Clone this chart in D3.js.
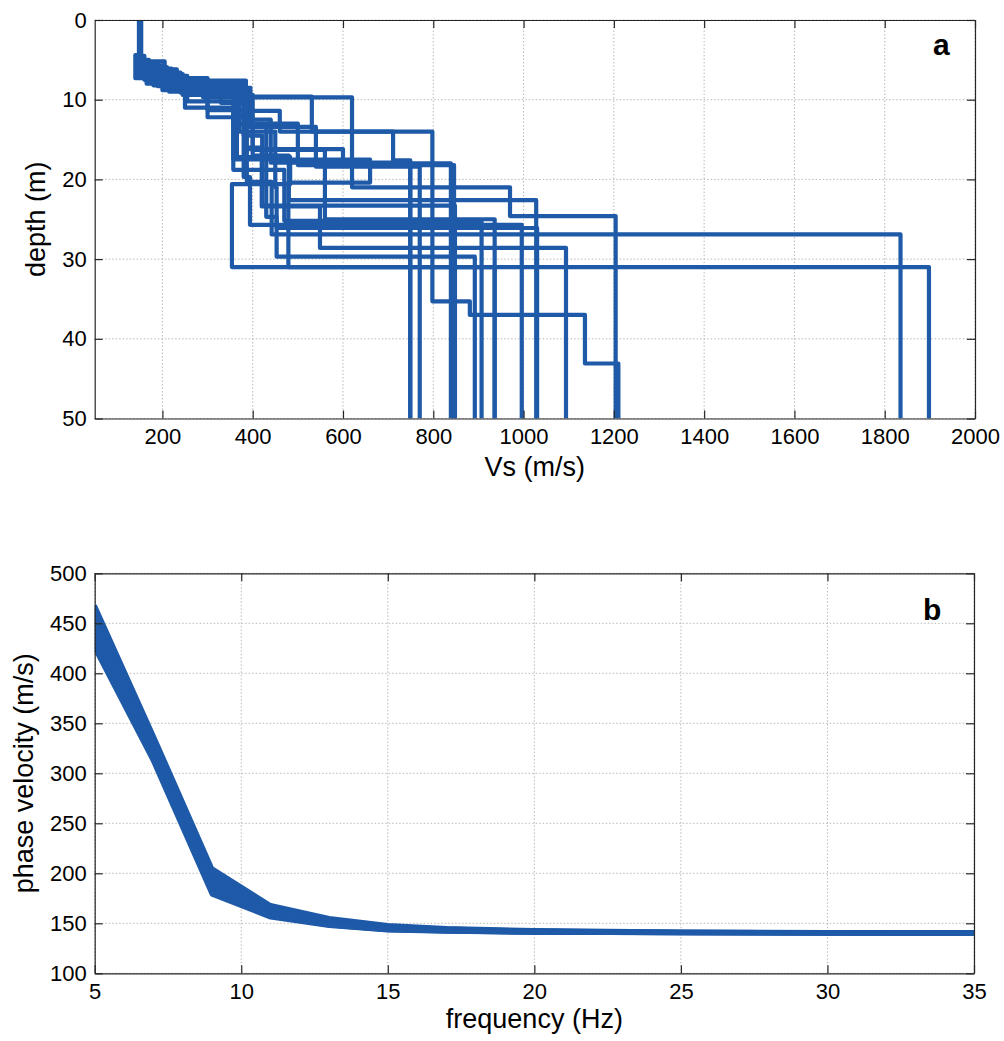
<!DOCTYPE html>
<html>
<head>
<meta charset="utf-8">
<script src="https://cdn.jsdelivr.net/npm/d3@7"></script>
<style>
  body { margin: 0; background: #fff; }
  svg { display: block; }
  text { font-family: "Liberation Sans", Arial, Helvetica, sans-serif; fill: #000; }
</style>
</head>
<body>
<svg id="chart" width="1004" height="1041"></svg>
<script>
// Shear-wave velocity profiles: each layer is [top depth (m), Vs (m/s)];
// the last layer extends down to the bottom of the depth axis.
const profiles = [
  [[0,150],[5.2,205],[7.6,385],[9.6,531],[14,798],[35.3,881],[37,1136],[43.1,1210]],
  [[0,152],[6.2,232],[8.6,383],[11.4,460],[14,711],[17.6,749]],
  [[0,148],[4.5,160],[7.5,290],[9.7,620],[21,970],[24.6,1204]],
  [[0,150],[5.6,180],[8.2,365],[17.2,483],[20.6,354],[31,1898]],
  [[0,153],[6.5,215],[9,387],[20.3,442],[26.9,1835]],
  [[0,150],[5,170],[7.9,330],[10.4,383],[16,420],[23.4,549],[28.6,1094]],
  [[0,151],[6,200],[8.8,300],[12.2,400],[17,480],[22.6,1028]],
  [[0,149],[4.8,145],[7,255],[10.2,380],[19.7,394],[25.7,996]],
  [[0,150],[5.8,190],[8.3,357],[13.1,430],[24.7,453],[29.7,892]],
  [[0,152],[6.8,245],[9.4,400],[16.3,560],[25,936]],
  [[0,150],[5.4,165],[8,250],[11,357],[18.8,470],[25.2,907]],
  [[0,150],[6.1,220],[8.9,390],[12.5,440],[17.9,749]],
  [[0,151],[5.3,190],[7.8,380],[13.4,540],[18.4,770]],
  [[0,149],[4.4,140],[7.3,300],[11.3,383],[16.2,600],[18,839]],
  [[0,150],[5.9,210],[8.5,395],[13,500],[18.2,846]],
  [[0,152],[6.6,240],[9.1,380],[14.5,421],[23.3,848]],
  [[0,150],[5.7,200],[8.1,383],[12,357],[17.5,660],[20.4,479],[31,936]],
  [[0,150],[6.3,225],[8.7,370],[14,450],[21,453],[26.1,1030]]
];
const maxDepth = 50;
const vsDomain = [50, 2000];
const vsTicks = [200, 400, 600, 800, 1000, 1200, 1400, 1600, 1800, 2000];
const depthTicks = [0, 10, 20, 30, 40, 50];

// Dispersion curves (phase velocity, m/s) sampled at these frequencies (Hz)
const frequencies = [5, 7, 9, 11, 13, 15, 17, 20, 25, 30, 35];
const dispersionCurves = [
  [468, 338, 205, 168, 155, 148, 145, 143, 141.5, 141, 141],
  [464, 335, 202, 166, 154, 147, 144.5, 142.5, 141.3, 141, 140.8],
  [460, 333, 200, 165, 153, 147, 144, 142.3, 141.2, 140.8, 140.7],
  [456, 331, 198, 164, 152.5, 146.5, 143.8, 142, 141, 140.7, 140.6],
  [452, 328, 195, 163, 152, 146, 143.5, 141.8, 140.9, 140.6, 140.5],
  [448, 326, 193, 162, 151, 145.5, 143.2, 141.6, 140.8, 140.5, 140.4],
  [444, 324, 191, 161, 150.5, 145, 143, 141.5, 140.7, 140.4, 140.3],
  [440, 322, 189, 160, 150, 144.6, 142.7, 141.3, 140.6, 140.3, 140.2],
  [436, 320, 186, 159, 149.5, 144.2, 142.5, 141.2, 140.5, 140.2, 140.1],
  [432, 317, 184, 158, 149, 143.8, 142.3, 141, 140.4, 140.1, 140],
  [428, 314, 181, 157, 148, 143.4, 142, 140.8, 140.3, 140, 139.9],
  [425, 312, 179, 156, 147.5, 143, 141.8, 140.7, 140.2, 139.9, 139.8]
];
const freqDomain = [5, 35];
const freqTicks = [5, 10, 15, 20, 25, 30, 35];
const velDomain = [100, 500];
const velTicks = [100, 150, 200, 250, 300, 350, 400, 450, 500];

const lineColor = "#1e5aa8";
const tickFormat = d3.format("d");
const svg = d3.select("#chart");
svg.append("rect").attr("width", 1004).attr("height", 1041).attr("fill", "#fff");

// Dotted grid and a clip region for the plot area.
function drawFrame(g, x, y, xTicks, yTicks, id) {
  const [x0, x1] = x.range();
  const [ya, yb] = y.range();
  const yTop = Math.min(ya, yb), yBot = Math.max(ya, yb);

  const grid = g.append("g").attr("class", "grid");
  grid.selectAll("line.gx").data(xTicks).join("line")
    .attr("x1", d => x(d)).attr("x2", d => x(d))
    .attr("y1", yTop).attr("y2", yBot);
  grid.selectAll("line.gy").data(yTicks).join("line")
    .attr("y1", d => y(d)).attr("y2", d => y(d))
    .attr("x1", x0).attr("x2", x1);
  grid.selectAll("line")
    .attr("stroke", "#b8b8b8").attr("stroke-width", 1)
    .attr("stroke-dasharray", "1.5,2");

  g.append("clipPath").attr("id", id)
    .append("rect").attr("x", x0).attr("y", yTop)
    .attr("width", x1 - x0).attr("height", yBot - yTop);
}

// Boxed axes with inward ticks on all four sides.
function drawAxes(g, x, y, xTicks, yTicks) {
  const [x0, x1] = x.range();
  const [ya, yb] = y.range();
  const yTop = Math.min(ya, yb), yBot = Math.max(ya, yb);
  const tick = 8;

  const styleAxis = sel => {
    sel.select(".domain").attr("stroke", "#262626").attr("stroke-width", 1.2);
    sel.selectAll(".tick line").attr("stroke", "#262626").attr("stroke-width", 1.2);
    sel.selectAll(".tick text")
      .attr("font-size", 22).attr("fill", "#000")
      .attr("font-family", "'Liberation Sans', Arial, sans-serif");
  };

  g.append("g").attr("transform", `translate(0,${yBot})`)
    .call(d3.axisBottom(x).tickValues(xTicks).tickFormat(tickFormat)
      .tickSizeInner(-tick).tickSizeOuter(0).tickPadding(10))
    .call(styleAxis);
  g.append("g").attr("transform", `translate(0,${yTop})`)
    .call(d3.axisTop(x).tickValues(xTicks).tickSizeInner(-tick).tickSizeOuter(0).tickFormat(""))
    .call(styleAxis);
  g.append("g").attr("transform", `translate(${x0},0)`)
    .call(d3.axisLeft(y).tickValues(yTicks).tickFormat(tickFormat)
      .tickSizeInner(-tick).tickSizeOuter(0).tickPadding(8))
    .call(styleAxis);
  g.append("g").attr("transform", `translate(${x1},0)`)
    .call(d3.axisRight(y).tickValues(yTicks).tickSizeInner(-tick).tickSizeOuter(0).tickFormat(""))
    .call(styleAxis);
}

// ---- Panel a: Vs versus depth ----
const gA = svg.append("g");
const xA = d3.scaleLinear().domain(vsDomain).range([94.7, 975]);
const yA = d3.scaleLinear().domain([0, maxDepth]).range([20, 418.5]);
drawFrame(gA, xA, yA, vsTicks, depthTicks, "clipA");

// Staircase: each layer is a vertical run at its Vs, then a horizontal step to the next layer.
const stairs = layers => {
  const pts = [];
  layers.forEach((layer, i) => {
    const bottom = i + 1 < layers.length ? layers[i + 1][0] : maxDepth;
    pts.push([layer[1], layer[0]], [layer[1], bottom]);
  });
  return pts;
};
const profileLine = d3.line().x(d => xA(d[0])).y(d => yA(d[1]));
gA.append("g").attr("clip-path", "url(#clipA)")
  .selectAll("path").data(profiles).join("path")
  .attr("d", p => profileLine(stairs(p)))
  .attr("fill", "none").attr("stroke", lineColor)
  .attr("stroke-width", 4.2).attr("stroke-linejoin", "round");

drawAxes(gA, xA, yA, vsTicks, depthTicks);

gA.append("text").attr("x", (94.7 + 975) / 2).attr("y", 476)
  .attr("text-anchor", "middle").attr("font-size", 27).text("Vs (m/s)");
gA.append("text").attr("transform", `translate(45,${(20 + 418.5) / 2}) rotate(-90)`)
  .attr("text-anchor", "middle").attr("font-size", 27).text("depth (m)");
gA.append("text").attr("x", 933).attr("y", 55)
  .attr("font-size", 30).attr("font-weight", "bold").text("a");

// ---- Panel b: dispersion curves ----
const gB = svg.append("g");
const xB = d3.scaleLinear().domain(freqDomain).range([94.7, 974]);
const yB = d3.scaleLinear().domain(velDomain).range([973.3, 573.3]);
drawFrame(gB, xB, yB, freqTicks, velTicks, "clipB");

const curveLine = d3.line()
  .x((d, i) => xB(frequencies[i]))
  .y(d => yB(d));
gB.append("g").attr("clip-path", "url(#clipB)")
  .selectAll("path").data(dispersionCurves).join("path")
  .attr("d", c => curveLine(c))
  .attr("fill", "none").attr("stroke", lineColor)
  .attr("stroke-width", 4.5).attr("stroke-linejoin", "round");

drawAxes(gB, xB, yB, freqTicks, velTicks);

gB.append("text").attr("x", (94.7 + 974) / 2).attr("y", 1028)
  .attr("text-anchor", "middle").attr("font-size", 27).text("frequency (Hz)");
gB.append("text").attr("transform", `translate(33,${(573.3 + 973.3) / 2}) rotate(-90)`)
  .attr("text-anchor", "middle").attr("font-size", 27).text("phase velocity (m/s)");
gB.append("text").attr("x", 923).attr("y", 620)
  .attr("font-size", 30).attr("font-weight", "bold").text("b");
</script>
</body>
</html>
